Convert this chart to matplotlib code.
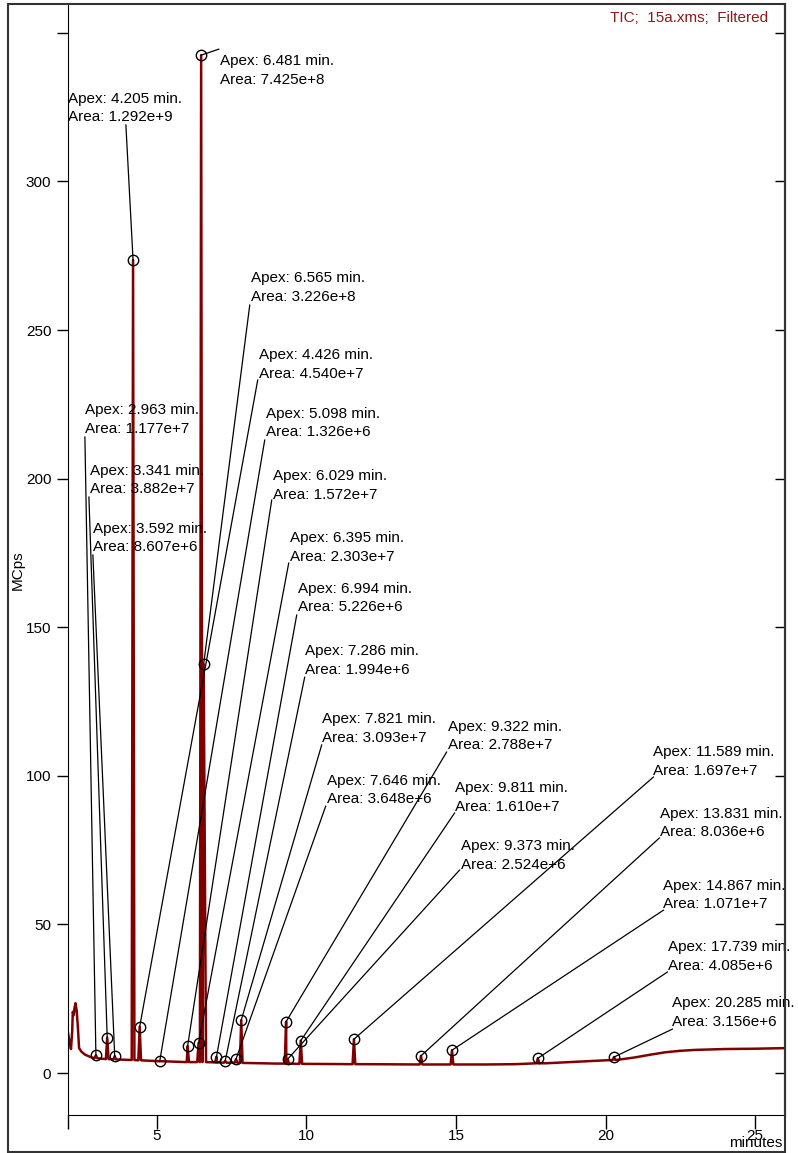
import matplotlib
matplotlib.use("Agg")
import matplotlib.pyplot as plt
from matplotlib.patches import Rectangle
import numpy as np

plt.rcParams["font.family"] = ["Liberation Sans", "DejaVu Sans"]
plt.rcParams["font.size"] = 11

# baseline of the TIC trace (minutes, MCps)
base_t = [2.03, 2.08, 2.13, 2.17, 2.19, 2.22, 2.25, 2.28, 2.32, 2.36, 2.40, 2.48, 2.60,
          2.76, 3.43, 5.10, 6.00, 7.00, 8.00, 9.00, 10.0, 12.0, 14.0, 16.0, 17.0, 18.0,
          19.0, 20.0, 20.5, 21.0, 21.5, 22.0, 22.5, 23.0, 24.0, 25.0, 26.0]
base_v = [13.5, 10.5, 8.1, 14.0, 20.6, 19.5, 22.0, 23.5, 21.0, 15.5, 8.4, 7.2, 6.2,
          5.5, 4.7, 4.0, 3.7, 3.6, 3.4, 3.2, 3.1, 3.0, 2.9, 2.9, 3.0, 3.3,
          3.8, 4.3, 4.6, 5.3, 6.2, 7.0, 7.5, 7.8, 8.1, 8.2, 8.4]

# labelled peaks
apex = [2.963, 3.341, 3.592, 4.205, 4.426, 5.098, 6.029, 6.395, 6.481, 6.565, 6.994,
        7.286, 7.646, 7.821, 9.322, 9.373, 9.811, 11.589, 13.831, 14.867, 17.739, 20.285]
height = [6.0, 11.9, 5.7, 273.6, 15.6, 4.1, 9.1, 10.1, 342.5, 137.6, 5.5,
          4.1, 4.7, 17.8, 17.3, 4.7, 10.9, 11.4, 5.8, 7.7, 5.0, 5.4]
peak_base = [5.0, 4.7, 4.6, 4.4, 4.3, 4.0, 3.7, 3.7, 3.7, 3.7, 3.6,
             3.5, 3.5, 3.4, 3.2, 3.2, 3.1, 3.0, 2.9, 2.9, 3.3, 4.4]
areas = ["1.177e+7", "3.882e+7", "8.607e+6", "1.292e+9", "4.540e+7", "1.326e+6",
         "1.572e+7", "2.303e+7", "7.425e+8", "3.226e+8", "5.226e+6", "1.994e+6",
         "3.648e+6", "3.093e+7", "2.788e+7", "2.524e+6", "1.610e+7", "1.697e+7",
         "8.036e+6", "1.071e+7", "4.085e+6", "3.156e+6"]

# label placement (text top-left) and leader line end, in data units
label_x = [2.595, 2.762, 2.862, 2.027, 8.407, 8.641, 8.874, 9.442, 7.104, 8.140, 9.709,
           9.943, 10.678, 10.511, 14.719, 15.154, 14.953, 21.600, 21.834, 21.934, 22.101, 22.235]
label_y = [225.4, 204.9, 185.4, 330.1, 243.9, 224.1, 203.2, 182.3, 342.8, 269.8, 165.2,
           144.3, 100.6, 121.4, 118.8, 78.7, 98.2, 110.3, 89.5, 65.3, 44.7, 25.9]
lead_x = [2.595, 2.729, 2.862, 3.965, 8.373, 8.607, 8.841, 9.409, 7.071, 8.106, 9.676,
          9.943, 10.645, 10.511, 14.686, 15.120, 14.953, 21.600, 21.800, 21.934, 22.068, 22.235]
lead_y = [214.0, 193.8, 174.3, 319.0, 233.2, 213.0, 192.8, 171.6, 344.5, 258.4, 154.1,
          133.2, 89.8, 110.4, 108.0, 68.3, 87.5, 99.6, 79.1, 54.8, 34.0, 14.8]

red = "#800000"

# assemble the trace: baseline points plus a narrow spike per peak
pts = list(zip(base_t, base_v))
for t, h, b in zip(apex, height, peak_base):
    hw = 0.08 if t == 6.565 else 0.045
    if t == 6.565:
        pts += [(t, h), (t + hw, b)]
    else:
        pts += [(t - hw, b), (t, h), (t + hw, b)]
pts.sort()
tr = np.array(pts)

fig = plt.figure(figsize=(7.98, 11.53), dpi=100)
ax = fig.add_axes([68 / 798, 1 - 1115 / 1153, (785 - 68) / 798, (1115 - 4) / 1153])

ax.plot(tr[:, 0], tr[:, 1], color=red, lw=1.8, zorder=2)

for i, t in enumerate(apex):
    ax.plot([t, lead_x[i]], [height[i], lead_y[i]], color="black", lw=0.9, zorder=3)
    ax.plot(t, height[i], "o", mfc="none", mec="black", ms=7.5, mew=1, zorder=4)
    ax.text(label_x[i], label_y[i], f"Apex: {t:.3f} min.\nArea: {areas[i]}",
            ha="left", va="top", linespacing=1.4, zorder=5)

ax.set_xlim(2.03, 26.0)
ax.set_ylim(-14.1, 359.7)
ax.set_xticks([5, 10, 15, 20, 25])
ax.set_xticks([2.03], minor=True)
ax.set_yticks([0, 50, 100, 150, 200, 250, 300, 350])
ax.set_yticklabels(["0", "50", "100", "150", "200", "250", "300", ""])
ax.tick_params(axis="x", which="both", direction="out", length=10, width=1, pad=0)
ax.tick_params(axis="y", direction="out", length=8, width=1, pad=4)
ax.spines["top"].set_visible(False)
ax.spines["right"].set_linewidth(1.5)

# inward ticks on the right edge
ax2 = ax.twinx()
ax2.set_ylim(ax.get_ylim())
ax2.set_yticks(ax.get_yticks())
ax2.set_yticklabels([])
ax2.tick_params(axis="y", direction="in", length=7, width=1)
for s in ax2.spines.values():
    s.set_visible(False)

fig.text(768 / 798, 1 - 18 / 1153, "TIC;  15a.xms;  Filtered", color="#8B1A1A",
         ha="right", va="center")
fig.text(782 / 798, 1 - 1143 / 1153, "minutes", ha="right", va="center")
fig.text(18 / 798, 1 - 570 / 1153, "MCps", rotation=90, ha="center", va="center")

fig.patches.append(Rectangle((8 / 798, 1 - 1152 / 1153), (785 - 8) / 798, (1152 - 4) / 1153,
                             transform=fig.transFigure, fill=False, lw=1.5,
                             edgecolor="#333333"))

fig.savefig("out.png", dpi=100)
